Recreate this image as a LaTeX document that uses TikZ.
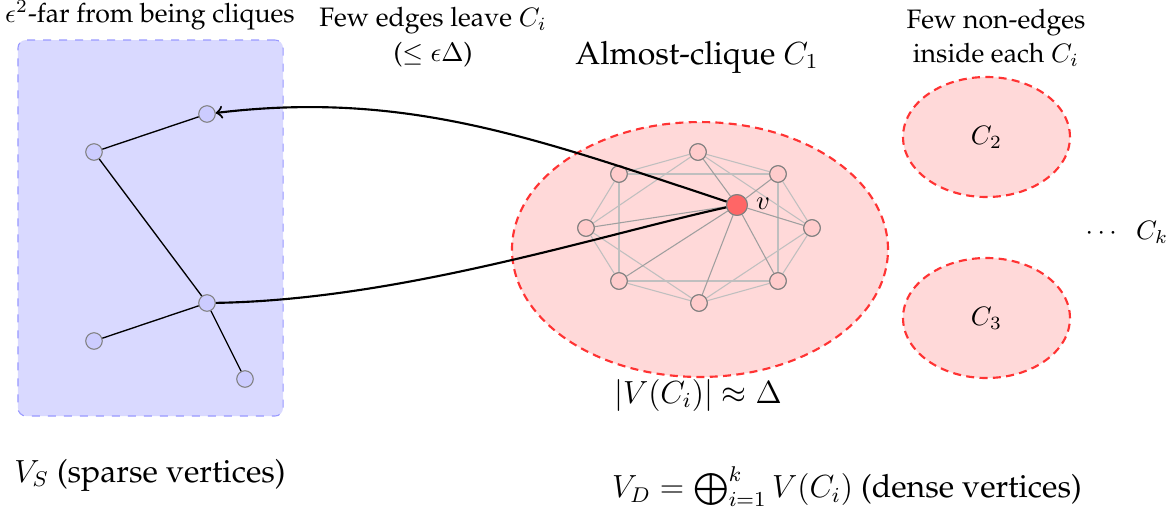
\documentclass[tikz,border=0pt]{standalone}
\usepackage[T1]{fontenc}
\usepackage{palatino}
\usepackage{amsmath,amssymb}
\usetikzlibrary{shapes.geometric}
\begin{document}
\begin{tikzpicture}[x=0.375pt,y=-0.375pt,
  sparsebox/.style={draw=blue!40, fill=blue!15, dashed, line width=0.4pt, rounded corners=3pt, inner sep=0pt},
  cliqueell/.style={ellipse, draw=red!80, fill=red!15, dash pattern=on 3pt off 2pt, line width=0.8pt, inner sep=0pt},
  svert/.style={circle, draw=gray, fill=blue!20, minimum size=6.2pt, inner sep=0pt, line width=0.4pt},
  cvert/.style={circle, draw=gray, fill=red!20, minimum size=6.2pt, inner sep=0pt, line width=0.4pt},
  vvert/.style={circle, draw=gray, fill=red!60, minimum size=7.8pt, inner sep=0pt, line width=0.4pt},
  treeedge/.style={line width=0.5pt, black},
  ringedge/.style={line width=0.4pt, gray!50},
  vedge/.style={line width=0.4pt, gray!75},
  bigarrow/.style={line width=0.8pt, black},
  lbl/.style={inner sep=0pt, font=\normalsize},
  biglbl/.style={inner sep=0pt, font=\large}
]
\useasboundingbox (0,0) rectangle (1174,508);

% sparse box
\node[sparsebox, minimum width=99.4pt, minimum height=141pt] (VSbox) at (150.5,228) {};
% ellipses
\node[cliqueell, minimum width=141pt, minimum height=95.6pt] (C1) at (700,249.5) {};
\node[cliqueell, minimum width=62.6pt, minimum height=45pt] (C2) at (986.5,137) {};
\node[cliqueell, minimum width=62.6pt, minimum height=45pt] (C3) at (986.5,318) {};

% sparse vertices
\node[svert] (s1) at (207,114) {};
\node[svert] (s2) at (94,152) {};
\node[svert] (s3) at (207,303) {};
\node[svert] (s4) at (94,341) {};
\node[svert] (s5) at (245,379) {};
\draw[treeedge] (s1) -- (s2);
\draw[treeedge] (s2) -- (s3);
\draw[treeedge] (s3) -- (s4);
\draw[treeedge] (s3) -- (s5);

% clique vertices
\node[cvert] (T) at (698,152) {};
\node[cvert] (TR) at (778,174) {};
\node[cvert] (R) at (812,228) {};
\node[cvert] (BR) at (778,281) {};
\node[cvert] (B) at (699,303) {};
\node[cvert] (BL) at (619,281) {};
\node[cvert] (L) at (586,228) {};
\node[cvert] (TL) at (619,174) {};
\node[vvert] (v) at (737,205) {};

% ring edges (distance 1 and 2)
\foreach \a/\b in {T/TR,TR/R,R/BR,BR/B,B/BL,BL/L,L/TL,TL/T,
                   T/R,TR/BR,R/B,BR/BL,B/L,BL/TL,L/T,TL/TR}
  \draw[ringedge] (\a) -- (\b);
% edges at v
\foreach \b in {T,TR,R,BR,B,BL,L}
  \draw[vedge] (v) -- (\b);
% redraw vertices on top
\foreach \n/\x/\y in {T/698/152,TR/778/174,R/812/228,BR/778/281,B/699/303,BL/619/281,L/586/228,TL/619/174}
  \node[cvert] at (\x,\y) {};
\node[vvert] at (737,205) {};
\node[lbl] (vlbl) at (763,204) {$v$};

% long connectors
\draw[bigarrow, ->] (v) .. controls +(-200,-66) and +(200,-24) .. (s1);
\draw[bigarrow] (s3) .. controls +(193,-3) and +(-137,30) .. (v);

% labels
\node[lbl] (t1) at (150,15) {$\epsilon^2$-far from being cliques};
\node[lbl, align=center] (t2) at (433,37) {Few edges leave $C_i$\\[1pt]($\le \epsilon\Delta$)};
\node[biglbl] (t3) at (697,57) {Almost-clique $C_1$};
\node[lbl, align=center] (t4) at (996,38) {Few non-edges\\[1pt]inside each $C_i$};
\node[lbl] at (C2) {$C_2$};
\node[lbl] at (C3) {$C_3$};
\node[lbl] (tk) at (1127,232) {$\cdots\;\;C_k$};
\node[biglbl] (t5) at (698,395) {$|V(C_i)| \approx \Delta$};
\node[biglbl] (t6) at (847,487) {$V_D = \bigoplus_{i=1}^{k} V(C_i)$ (dense vertices)};
\node[biglbl] (t7) at (150,475) {$V_S$ (sparse vertices)};
\end{tikzpicture}
\end{document}
